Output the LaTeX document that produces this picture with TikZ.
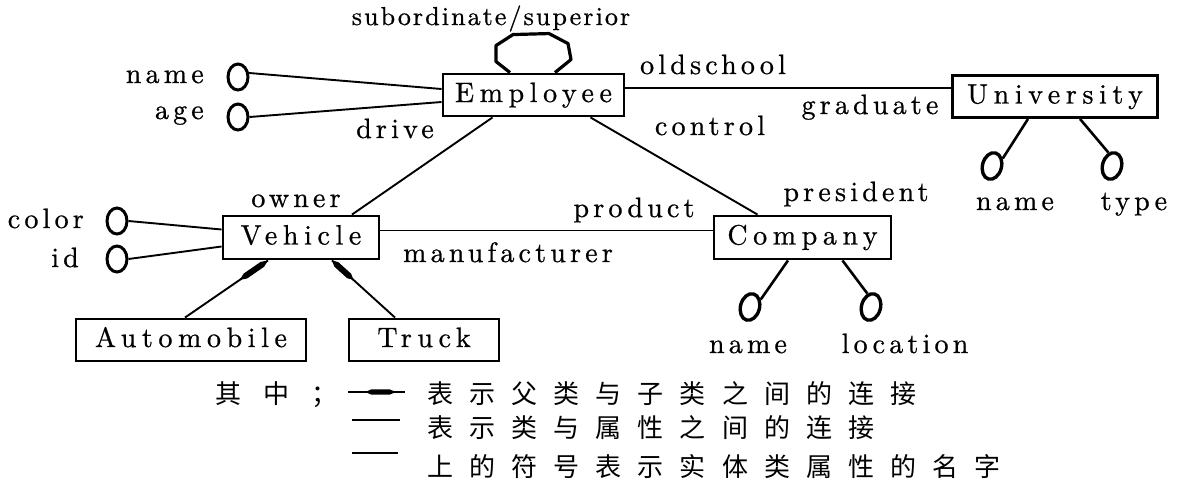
\documentclass[tikz,border=0pt]{standalone}
\usepackage{fontspec}
\usetikzlibrary{shapes.geometric,calc}
\newfontfamily\lblf{lmroman10-regular.otf}[LetterSpace=15, FakeBold=0.7]
\newfontfamily\bxf{lmroman10-regular.otf}[LetterSpace=20, FakeBold=0.7]
\newfontfamily\supf{lmroman10-regular.otf}[LetterSpace=8, FakeBold=0.7]
\newfontfamily\cjkA{Noto Sans CJK SC}[LetterSpace=62]
\newfontfamily\cjkC{Noto Sans CJK SC}[LetterSpace=85]
\newcommand\kiteseg[5]{%
  \coordinate (ks0) at ($(#1)!#3!(#2)$);
  \coordinate (ks1) at ($(#1)!#4!(#2)$);
  \fill (ks0) -- ($(ks0)!0.2!(ks1)!#5!90:(ks1)$) -- ($(ks0)!0.8!(ks1)!#5!90:(ks1)$) -- (ks1)
     -- ($(ks0)!0.8!(ks1)!#5!-90:(ks1)$) -- ($(ks0)!0.2!(ks1)!#5!-90:(ks1)$) -- cycle;
}
\tikzset{
  box/.style={draw, line width=2.9pt, inner sep=0pt, font=\bxf\fontsize{28}{30}\selectfont, text height=20pt, text depth=6pt},
  lbl/.style={inner sep=0pt, font=\lblf\fontsize{28}{30}\selectfont, text height=20pt, text depth=6pt},
  attr/.style={draw, ellipse, line width=3pt, inner sep=0pt, minimum width=20pt, minimum height=26pt},
  tilt/.style={attr, rotate=-15, minimum width=19pt, minimum height=27pt, line width=3.4pt},
  link/.style={line width=1.9pt},
  cjk/.style={inner sep=0pt, anchor=west, text height=22pt, text depth=4pt},
}
\begin{document}
\begin{tikzpicture}[x=1pt,y=-1pt]
\useasboundingbox (0,0) rectangle (1183,485);
\fill[white] (0,0) rectangle (1183,485);

% entity boxes
\node[box, minimum width=181pt, minimum height=42pt] (emp) at (533.5,95) {Employee};
\node[box, minimum width=205pt, minimum height=42pt] (univ) at (1055,96.5) {University};
\node[box, minimum width=156pt, minimum height=43pt] (veh) at (301,237.5) {Vehicle};
\node[box, minimum width=177pt, minimum height=43pt] (comp) at (802.5,237.5) {Company};
\node[box, minimum width=230pt, minimum height=42pt] (auto) at (191,340) {Automobile};
\node[box, minimum width=150pt, minimum height=42pt] (truck) at (424,340) {Truck};

% attribute ovals
\node[attr] (oname) at (238,77) {};
\node[attr] (oage) at (238,117) {};
\node[attr] (ocolor) at (117,221) {};
\node[attr] (oid) at (117,259) {};
\node[tilt] (ocname) at (750,307) {};
\node[tilt] (ocloc) at (871,307) {};
\node[tilt] (ouname) at (992,166) {};
\node[tilt] (outype) at (1112,166) {};

% labels
\node[lbl] (lsub) at (491,18) {\supf\fontsize{26}{28}\selectfont subordinate/superior};
\node[lbl, anchor=east] (lname) at (204,76) {name};
\node[lbl, anchor=east] (lage) at (204,112) {age};
\node[lbl] (ldrive) at (395,131) {drive};
\node[lbl] (lcontrol) at (710,128) {control};
\node[lbl] (lold) at (713,67) {oldschool};
\node[lbl] (lgrad) at (870,107) {graduate};
\node[lbl] (lowner) at (296,200) {owner};
\node[lbl] (lproduct) at (634,210) {product};
\node[lbl] (lpres) at (856,194) {president};
\node[lbl] (lmanu) at (508,255) {manufacturer};
\node[lbl, anchor=east] (lcolor) at (84,221) {color};
\node[lbl, anchor=east] (lid) at (79,260) {id};
\node[lbl] (lcname) at (748,346) {name};
\node[lbl] (lcloc) at (905,346) {location};
\node[lbl] (luname) at (1015,203) {name};
\node[lbl] (lutype) at (1134,203) {type};

% self loop
\draw[line width=3.2pt, line join=round] ([xshift=-23.5pt]emp.north) -- ++(-14,-11) -- ++(0,-16) -- ++(17,-11)
   -- ++(36,-1) -- ++(19,10) -- ++(3,16) -- ([xshift=21.5pt]emp.north);

% connectors
\draw[link] (oname.20) -- ([yshift=6pt]emp.west);
\draw[link] (oage.east) -- ([yshift=-7pt]emp.west);
\draw[link] (ocolor.east) -- ([yshift=8pt]veh.west);
\draw[link] (oid.east) -- ([yshift=-9pt]veh.west);
\draw[link] ([yshift=7pt]emp.east) -- ([yshift=7pt]emp.east -| univ.west);
\draw[link] ([xshift=-41pt]emp.south) -- ([xshift=51pt]veh.north);
\draw[link] ([xshift=57pt]emp.south) -- ([xshift=-45pt]comp.north);
\draw[link] ([yshift=7pt]veh.east) -- ([yshift=7pt]veh.east -| comp.west);

\coordinate (va) at ([xshift=-33pt]veh.south);
\coordinate (aa) at ([xshift=-6pt]auto.north);
\coordinate (vt) at ([xshift=31pt]veh.south);
\coordinate (tt) at ([xshift=-29pt]truck.north);
\draw[link] (va) -- (aa);
\draw[link] (vt) -- (tt);
\kiteseg{va}{aa}{0.0}{0.34}{3pt}
\kiteseg{vt}{tt}{0.0}{0.34}{3pt}

\draw[link, line width=2.6pt] ([xshift=-14.5pt]comp.south) -- (ocname.50);
\draw[link, line width=2.6pt] ([xshift=40pt]comp.south) -- (ocloc.120);
\draw[link, line width=2.6pt] ([xshift=-27pt]univ.south) -- (ouname.50);
\draw[link, line width=2.6pt] ([xshift=25pt]univ.south) -- (outype.120);

% legend
\node[cjk, font=\cjkC\fontsize{26}{28}\selectfont] (lgq) at (215,394) {其中；};
\coordinate (l1a) at (348,392);
\coordinate (l1b) at (405,392);
\coordinate (l2a) at (352,420);
\coordinate (l2b) at (400,420);
\coordinate (l3a) at (352,453);
\coordinate (l3b) at (398,453);
\draw[link] (l1a) -- (l1b);
\kiteseg{l1a}{l1b}{0.3}{0.84}{2.6pt}
\draw[link] (l2a) -- (l2b);
\draw[link] (l3a) -- (l3b);
\node[cjk, font=\cjkA\fontsize{26}{28}\selectfont] (t1) at (427,394) {表示父类与子类之间的连接};
\node[cjk, font=\cjkA\fontsize{26}{28}\selectfont] (t2) at (427,428) {表示类与属性之间的连接};
\node[cjk, font=\cjkA\fontsize{26}{28}\selectfont] (t3) at (427,467) {上的符号表示实体类属性的名字};
\end{tikzpicture}
\end{document}
